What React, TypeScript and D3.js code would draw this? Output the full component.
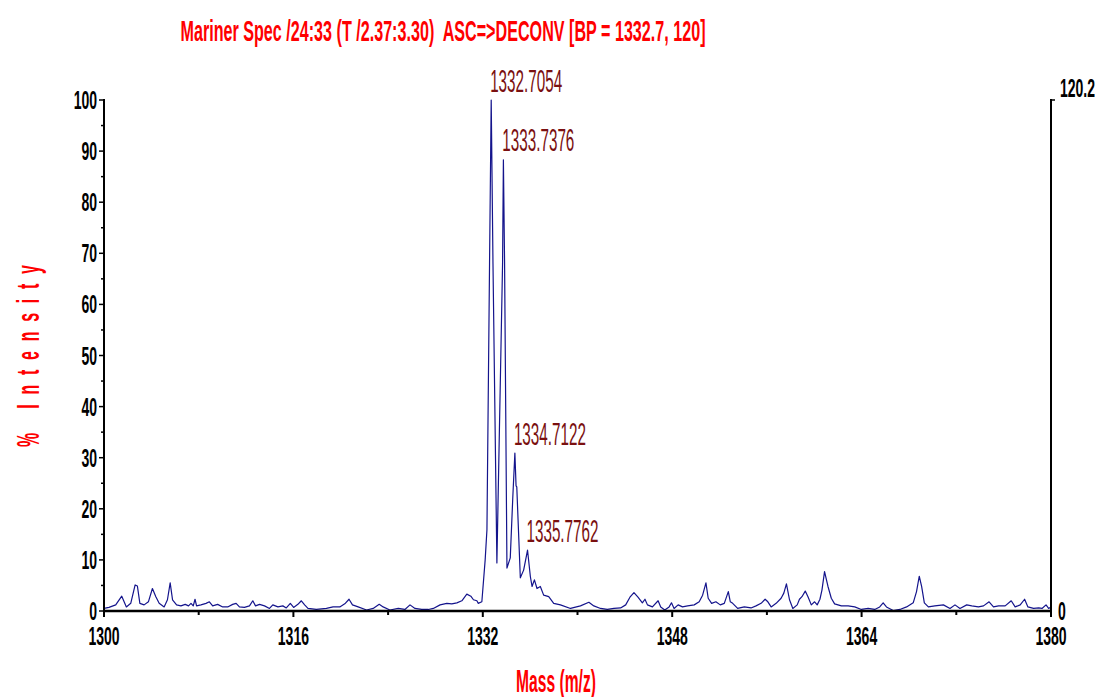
import React from "react";
import * as d3 from "d3";

// spectrum (m/z, % intensity)
const massValues = [
  1300.0, 1300.42, 1300.99, 1301.5, 1301.89, 1302.26, 1302.63, 1302.82, 1303.03, 1303.39,
  1303.75, 1304.09, 1304.38, 1304.66, 1305.08, 1305.36, 1305.59, 1305.79, 1306.13, 1306.5,
  1306.86, 1307.14, 1307.35, 1307.54, 1307.69, 1307.82, 1308.19, 1308.62, 1308.9, 1309.18,
  1309.6, 1310.03, 1310.45, 1310.87, 1311.16, 1311.44, 1311.86, 1312.29, 1312.57, 1312.8,
  1313.14, 1313.56, 1313.98, 1314.26, 1314.69, 1315.11, 1315.4, 1315.74, 1316.02, 1316.38,
  1316.67, 1316.95, 1317.23, 1317.94, 1318.79, 1319.35, 1319.92, 1320.34, 1320.7, 1320.99,
  1321.47, 1322.18, 1322.74, 1323.25, 1323.58, 1324.15, 1324.86, 1325.42, 1325.85, 1326.27,
  1326.84, 1327.4, 1327.82, 1328.39, 1328.96, 1329.38, 1329.81, 1330.23, 1330.65, 1330.99,
  1331.21, 1331.5, 1331.61, 1331.92, 1332.2, 1332.35, 1332.57, 1332.71, 1332.86, 1333.19,
  1333.67, 1333.74, 1333.84, 1334.04, 1334.32, 1334.53, 1334.71, 1334.81, 1334.87, 1335.17,
  1335.45, 1335.78, 1336.02, 1336.16, 1336.36, 1336.58, 1336.86, 1337.14, 1337.57, 1337.99,
  1338.56, 1339.41, 1340.25, 1340.96, 1341.38, 1341.95, 1342.52, 1343.08, 1343.64, 1344.07,
  1344.43, 1344.77, 1345.11, 1345.48, 1345.7, 1345.91, 1346.33, 1346.81, 1347.03, 1347.37,
  1347.74, 1347.94, 1348.16, 1348.5, 1348.87, 1349.3, 1349.86, 1350.28, 1350.57, 1350.85,
  1351.04, 1351.33, 1351.69, 1352.06, 1352.4, 1352.74, 1352.91, 1353.11, 1353.53, 1354.09,
  1354.66, 1355.08, 1355.51, 1355.85, 1356.08, 1356.36, 1356.78, 1357.2, 1357.43, 1357.65,
  1357.91, 1358.19, 1358.56, 1358.75, 1358.96, 1359.24, 1359.47, 1359.75, 1360.03, 1360.25,
  1360.48, 1360.65, 1360.87, 1361.16, 1361.44, 1361.72, 1362.29, 1362.86, 1363.42, 1363.98,
  1364.55, 1365.11, 1365.53, 1365.82, 1366.1, 1366.67, 1367.23, 1367.8, 1368.36, 1368.64,
  1368.87, 1369.07, 1369.3, 1369.64, 1370.19, 1370.91, 1371.47, 1371.89, 1372.31, 1372.88,
  1373.31, 1373.87, 1374.3, 1374.77, 1375.14, 1375.57, 1376.13, 1376.64, 1376.97, 1377.4,
  1377.77, 1378.05, 1378.53, 1378.96, 1379.24, 1379.58, 1379.8, 1380.0,
];
const intensityValues = [
  0.5, 0.7, 1.2, 2.9, 0.8, 1.5, 5.1, 4.9, 1.5, 1.2,
  1.8, 4.4, 2.8, 1.5, 0.8, 2.2, 5.5, 2.2, 1.2, 1.0,
  1.3, 1.0, 1.5, 1.0, 2.3, 1.0, 1.2, 1.5, 1.8, 1.0,
  1.3, 0.8, 0.8, 1.3, 1.5, 0.8, 0.7, 1.0, 2.0, 1.0,
  1.3, 1.0, 0.5, 1.2, 0.8, 1.0, 0.6, 1.5, 0.7, 1.3,
  2.0, 1.2, 0.5, 0.3, 0.5, 0.8, 0.8, 1.4, 2.3, 1.2,
  0.8, 0.2, 0.5, 1.3, 0.8, 0.2, 0.5, 0.3, 1.2, 0.5,
  0.3, 0.3, 0.5, 1.2, 1.5, 1.4, 1.6, 2.0, 3.3, 2.9,
  2.2, 2.0, 1.5, 1.8, 10.0, 15.9, 68.0, 100.0, 68.0, 9.4,
  68.0, 88.3, 68.0, 8.4, 10.4, 22.0, 30.9, 24.5, 24.3, 6.5,
  8.0, 11.9, 6.7, 4.8, 6.1, 4.4, 4.8, 3.1, 2.8, 1.5,
  1.2, 0.5, 1.0, 1.7, 1.0, 0.5, 0.3, 0.5, 0.6, 1.2,
  2.7, 3.6, 2.7, 1.6, 2.3, 1.2, 0.8, 2.0, 0.8, 0.2,
  0.8, 1.6, 0.5, 1.2, 0.8, 1.0, 1.2, 1.8, 3.1, 5.5,
  2.5, 1.5, 1.8, 1.2, 1.5, 3.8, 1.8, 1.5, 0.5, 0.8,
  0.6, 1.0, 1.5, 2.3, 1.8, 0.8, 1.5, 2.5, 3.5, 5.3,
  2.2, 0.5, 1.2, 2.3, 2.8, 3.9, 2.8, 1.2, 1.8, 1.2,
  2.3, 4.1, 7.7, 4.8, 2.5, 1.4, 1.0, 1.0, 0.8, 0.3,
  0.5, 0.3, 0.8, 1.6, 0.8, 0.1, 0.3, 0.8, 1.6, 3.8,
  6.8, 4.8, 1.6, 0.8, 1.0, 1.2, 0.5, 1.2, 0.5, 1.2,
  1.0, 0.8, 1.0, 1.8, 0.8, 1.0, 1.0, 2.0, 0.8, 1.2,
  2.3, 0.8, 0.5, 0.6, 0.5, 1.2, 0.5, 0.8,
];

// labelled peaks
const peakMasses = [1332.7054, 1333.7376, 1334.7122, 1335.7762];
const peakIntensities = [100, 88.3, 30.9, 11.9];

const xTickLabels = [1300, 1316, 1332, 1348, 1364, 1380];
const xMinorTicks = [1308, 1324, 1340, 1356, 1372];
const yTickLabels = [0, 10, 20, 30, 40, 50, 60, 70, 80, 90, 100];
const yMinorTicks = [5, 15, 25, 35, 45, 55, 65, 75, 85, 95];

const titleText = "Mariner Spec /24:33 (T /2.37:3.30)  ASC=>DECONV [BP = 1332.7, 120]";
const rightTopLabel = "120.2";

const W = 1095, H = 697;
const margin = { left: 104, right: 44, top: 100, bottom: 86 };
const FONT = "'Liberation Sans', Arial, sans-serif";

export default function App() {
  const x = d3.scaleLinear().domain([1300, 1380]).range([margin.left, W - margin.right]);
  const y = d3.scaleLinear().domain([0, 100]).range([H - margin.bottom, margin.top]);

  const pts = massValues.map((m, i) => [m, intensityValues[i]] as [number, number]);
  const line = d3.line<[number, number]>().x(d => x(d[0])).y(d => y(d[1]));

  const x0 = x.range()[0], x1 = x.range()[1];
  const y0 = y.range()[0], yTop = y.range()[1];
  const tickScale = 0.56;

  return (
    <svg width={W} height={H} style={{ position: "absolute", left: 0, top: 0, background: "#fff" }}
      fontFamily={FONT}>
      {/* title, squeezed like the narrow font of the original */}
      <g transform="translate(443,41) scale(0.538,1)">
        <text textAnchor="middle" fontSize={30} fontWeight="bold" fill="#ff0000"
          style={{ whiteSpace: "pre" }}>
          {titleText}
        </text>
      </g>

      {/* spectrum */}
      <path d={line(pts) || ""} fill="none" stroke="#14148c" strokeWidth={1.2} strokeLinejoin="round" />

      {/* axes */}
      <line x1={x0} x2={x0} y1={yTop - 1} y2={y0} stroke="#000" strokeWidth={2} />
      <line x1={x1} x2={x1} y1={yTop - 1} y2={y0} stroke="#000" strokeWidth={2} />
      <line x1={x0 - 1} x2={x1 + 1} y1={y0} y2={y0} stroke="#000" strokeWidth={2.5} />

      {yTickLabels.map(v => (
        <g key={"yt" + v}>
          <line x1={x0 - 5} x2={x0} y1={y(v)} y2={y(v)} stroke="#000" strokeWidth={1.5} />
          <g transform={`translate(${x0 - 7},${y(v) + 9}) scale(${tickScale},1)`}>
            <text textAnchor="end" fontSize={25} fontWeight="bold" fill="#000">{v}</text>
          </g>
        </g>
      ))}
      {yMinorTicks.map(v => (
        <line key={"ym" + v} x1={x0 - 3} x2={x0} y1={y(v)} y2={y(v)} stroke="#000" strokeWidth={1.5} />
      ))}

      {xTickLabels.map(v => (
        <g key={"xt" + v}>
          <line x1={x(v)} x2={x(v)} y1={y0} y2={y0 + 6} stroke="#000" strokeWidth={2} />
          <g transform={`translate(${x(v)},${y0 + 34}) scale(${tickScale},1)`}>
            <text textAnchor="middle" fontSize={25} fontWeight="bold" fill="#000">{v}</text>
          </g>
        </g>
      ))}
      {xMinorTicks.map(v => (
        <line key={"xm" + v} x1={x(v)} x2={x(v)} y1={y0} y2={y0 + 4} stroke="#000" strokeWidth={2} />
      ))}

      {/* right axis: 0 .. 120.2 counts */}
      <line x1={x1} x2={x1 + 4} y1={yTop} y2={yTop} stroke="#000" strokeWidth={1.5} />
      <g transform={`translate(${x1 + 9},${yTop - 3}) scale(${tickScale},1)`}>
        <text fontSize={25} fontWeight="bold" fill="#000">{rightTopLabel}</text>
      </g>
      <g transform={`translate(${x1 + 7},${y0 + 9}) scale(${tickScale},1)`}>
        <text fontSize={25} fontWeight="bold" fill="#000">0</text>
      </g>

      {/* peak labels */}
      {peakMasses.map((m, i) => (
        <g key={"pk" + i} transform={`translate(${x(m) - 1},${y(peakIntensities[i]) - 8.5}) scale(0.476,1)`}>
          <text fontSize={32} fill="#7a1010">{m.toFixed(4)}</text>
        </g>
      ))}

      {/* axis titles */}
      <g transform="translate(556,692) scale(0.489,1)">
        <text textAnchor="middle" fontSize={32} fontWeight="bold" fill="#ff0000">Mass (m/z)</text>
      </g>
      <g transform={`translate(39,356) rotate(-90) scale(0.5,1)`}>
        <text textAnchor="middle" fontSize={32} fontWeight="bold" fill="#ff0000"
          textLength={364} lengthAdjust="spacing" style={{ whiteSpace: "pre" }}>
          {"%   I n t e n s i t y"}
        </text>
      </g>
    </svg>
  );
}
